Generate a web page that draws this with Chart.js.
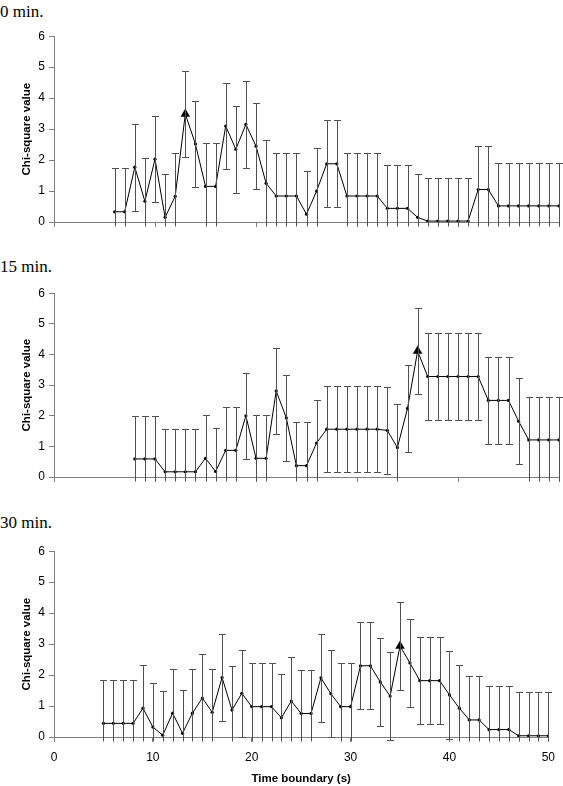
<!DOCTYPE html>
<html><head><meta charset="utf-8">
<script src="https://cdn.jsdelivr.net/npm/chart.js@4.4.1/dist/chart.umd.min.js"></script>
<style>
html,body{margin:0;padding:0;background:#fff;}
body{width:563px;height:786px;overflow:hidden;position:relative;}
.lbl{position:absolute;left:0;font-family:"Liberation Serif","Times New Roman",serif;font-size:17px;color:#000;line-height:17px;white-space:nowrap;}
canvas{position:absolute;left:0;}
</style></head><body>
<div class="lbl" id="l0" style="top:3px"></div>
<div class="lbl" id="l1" style="top:258px"></div>
<div class="lbl" id="l2" style="top:514px"></div>
<canvas id="c0" width="563" height="215" style="top:25px"></canvas>
<canvas id="c1" width="563" height="215" style="top:282px"></canvas>
<canvas id="c2" width="563" height="246" style="top:540px"></canvas>
<script>
// ---- data ----
const panelLabels = ["0 min.", "15 min.", "30 min."];
const yTitle = "Chi-square value";
const xTitle = "Time boundary (s)";
const xTickValues = [0, 10, 20, 30, 40, 50];
const yTickValues = [0, 1, 2, 3, 4, 5, 6];

const times0 = [6,7,8,9,10,11,12,13,14,15,16,17,18,19,20,21,22,23,24,25,26,27,28,29,30,31,32,33,34,35,36,37,38,39,40,41,42,43,44,45,46,47,48,49,50];
const chi0 = [0.33,0.33,1.77,0.67,2.03,0.15,0.83,3.49,2.52,1.15,1.15,3.10,2.35,3.15,2.45,1.25,0.84,0.84,0.84,0.25,1.00,1.88,1.88,0.84,0.84,0.84,0.84,0.44,0.44,0.44,0.15,0.03,0.03,0.03,0.03,0.03,1.05,1.05,0.52,0.52,0.52,0.52,0.52,0.52,0.52];

const times15 = [8,9,10,11,12,13,14,15,16,17,18,19,20,21,22,23,24,25,26,27,28,29,30,31,32,33,34,35,36,37,38,39,40,41,42,43,44,45,46,47,48,49,50];
const chi15 = [0.59,0.59,0.59,0.17,0.17,0.17,0.17,0.61,0.18,0.87,0.87,2.00,0.61,0.61,2.81,1.93,0.37,0.37,1.11,1.56,1.56,1.56,1.56,1.56,1.56,1.52,0.96,2.24,4.11,3.28,3.28,3.28,3.28,3.28,3.28,2.50,2.50,2.50,1.82,1.21,1.21,1.21,1.21];

const times30 = [5,6,7,8,9,10,11,12,13,14,15,16,17,18,19,20,21,22,23,24,25,26,27,28,29,30,31,32,33,34,35,36,37,38,39,40,41,42,43,44,45,46,47,48,49,50];
const chi30 = [0.44,0.44,0.44,0.44,0.93,0.32,0.06,0.77,0.12,0.77,1.26,0.80,1.92,0.87,1.41,0.98,0.98,0.98,0.62,1.16,0.76,0.76,1.91,1.40,0.98,0.98,2.30,2.30,1.78,1.32,2.94,2.39,1.82,1.82,1.82,1.36,0.93,0.55,0.55,0.24,0.24,0.24,0.04,0.04,0.04,0.04];

// error bar half-length (same for every point in a panel)
const errHalf = [1.40, 1.41, 1.41];
// time boundary marked with a triangle
const peakTime = [13, 36, 35];

// ---- drawing ----
const FONT = "'Liberation Sans', Arial, sans-serif";
const AXIS = '#808080';

const errorBars = {
  id: 'errorBars',
  afterDatasetsDraw(chart, args, opts) {
    const {ctx, chartArea: a, scales: {x, y}} = chart;
    const ts = opts.times, vs = opts.values, e = opts.err;
    ctx.save();
    ctx.beginPath();
    ctx.rect(a.left - 10, a.top - 10, a.right - a.left + 20, a.bottom - a.top + 14.5);
    ctx.clip();
    ctx.strokeStyle = '#505050';
    ctx.lineWidth = 1;
    ctx.beginPath();
    for (let i = 0; i < ts.length; i++) {
      const px = Math.round(x.getPixelForValue(ts[i])) + 0.5;
      const yt = Math.round(y.getPixelForValue(vs[i] + e)) + 0.5;
      const yb = Math.round(y.getPixelForValue(vs[i] - e)) + 0.5;
      ctx.moveTo(px, yt); ctx.lineTo(px, yb);
      ctx.moveTo(px - 3.5, yt); ctx.lineTo(px + 3.5, yt);
      ctx.moveTo(px - 3.5, yb); ctx.lineTo(px + 3.5, yb);
    }
    ctx.stroke();
    ctx.restore();
  }
};

function makePanel(id, times, vals, err, peak, cfg) {
  const pts = times.map((t, i) => ({x: t, y: vals[i]}));
  const styles = times.map(t => t === peak ? 'triangle' : 'circle');
  const radii = times.map(t => t === peak ? 5.5 : 1.6);
  new Chart(document.getElementById(id), {
    type: 'line',
    data: {datasets: [{
      data: pts,
      borderColor: '#000', borderWidth: 1, tension: 0,
      pointStyle: styles, pointRadius: radii,
      pointBackgroundColor: '#000', pointBorderColor: '#000', pointBorderWidth: 0
    }]},
    options: {
      responsive: false, animation: false, devicePixelRatio: 1,
      layout: {padding: {left: cfg.padLeft, right: cfg.padRight, top: 10, bottom: 0}},
      plugins: {legend: {display: false}, tooltip: {enabled: false},
        errorBars: {times: times, values: vals, err: err}},
      scales: {
        x: {
          type: 'linear', min: 0, max: 50,
          afterBuildTicks: s => { s.ticks = xTickValues.map(v => ({value: v})); },
          ticks: {display: cfg.xLabels, color: '#000', font: {family: FONT, size: 12}, padding: 8, maxRotation: 0},
          grid: {drawOnChartArea: false, drawTicks: true, tickLength: 5, color: AXIS},
          border: {color: AXIS, width: 1},
          title: {display: cfg.xLabels, text: xTitle, color: '#000', font: {family: FONT, size: 11.5, weight: 'bold'}, padding: {top: 0, bottom: 0}},
          afterFit: s => { s.height = cfg.xHeight; }
        },
        y: {
          min: 0, max: 6,
          afterBuildTicks: s => { s.ticks = yTickValues.map(v => ({value: v})); },
          ticks: {color: '#000', font: {family: FONT, size: 12}, padding: 4},
          grid: {drawOnChartArea: false, drawTicks: true, tickLength: 5, color: AXIS},
          border: {color: AXIS, width: 1},
          title: {display: true, text: yTitle, color: '#000', font: {family: FONT, size: 11.5, weight: 'bold'}, padding: {top: 20 - cfg.padLeft, bottom: 0}},
          afterFit: s => { s.width = 54; }
        }
      }
    },
    plugins: [errorBars]
  });
}

document.getElementById('l0').textContent = panelLabels[0];
document.getElementById('l1').textContent = panelLabels[1];
document.getElementById('l2').textContent = panelLabels[2];

makePanel('c0', times0, chi0, errHalf[0], peakTime[0], {padLeft: 0, padRight: 4, xHeight: 18, xLabels: false});
makePanel('c1', times15, chi15, errHalf[1], peakTime[1], {padLeft: 0, padRight: 4, xHeight: 20, xLabels: false});
makePanel('c2', times30, chi30, errHalf[2], peakTime[2], {padLeft: 0, padRight: 12, xHeight: 49, xLabels: true});
</script>
</body></html>
